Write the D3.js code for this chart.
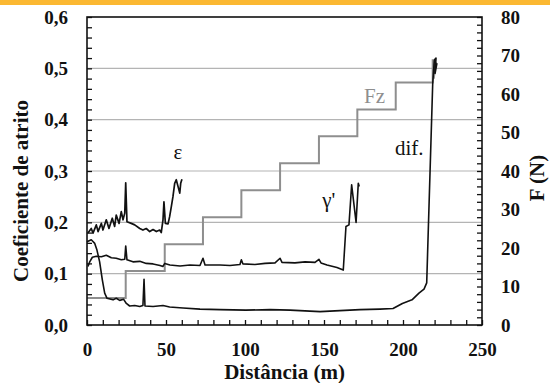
<!DOCTYPE html>
<html><head><meta charset="utf-8">
<script src="https://cdn.jsdelivr.net/npm/d3@7"></script>
<style>
html,body{margin:0;padding:0;background:#fff;}
svg{display:block;}
svg text{font-family:"Liberation Serif","DejaVu Serif","Times New Roman",serif;}
</style></head>
<body>
<svg id="chart" width="550" height="383"></svg>
<script>
// ---- data ----
const yTicksLeft = [0, 0.1, 0.2, 0.3, 0.4, 0.5, 0.6];
const yTicksRight = [0, 10, 20, 30, 40, 50, 60, 70, 80];
const xTicks = [0, 50, 100, 150, 200, 250];

// epsilon curve: distance (m), friction coefficient
const epsDist = [0.6,2.7,3.8,5.9,7.0,9.1,10.1,12.2,13.9,16.0,17.5,18.5,20.3,21.7,22.8,23.9,24.5,25.3,28.0,30.2,33.4,35.4,37.5,39.7,41.8,43.9,46.0,47.0,48.1,48.7,49.6,51.3,52.3,53.4,54.4,55.5,56.5,57.6,58.7,59.3,60.1];
const epsVal  = [0.179,0.188,0.179,0.195,0.182,0.198,0.185,0.205,0.188,0.208,0.192,0.214,0.198,0.221,0.205,0.218,0.277,0.201,0.198,0.195,0.188,0.185,0.188,0.182,0.186,0.182,0.185,0.180,0.205,0.240,0.198,0.197,0.211,0.231,0.250,0.276,0.283,0.270,0.257,0.276,0.284];

// gamma' curve
const gamDist = [0.6,1.7,3.4,5.9,9.1,12.2,15.4,18.5,21.7,23.9,24.5,25.3,29.1,33.4,37.5,41.8,46.2,48.1,49.2,52.5,58.9,65.2,71.5,73.4,74.7,84.2,90.5,96.8,97.7,98.7,106.3,112.7,119.0,122.2,123.4,131.6,138.0,144.3,146.8,148.1,151.9,158.2,162.2,163.9,165.8,167.5,170.3,171.7,172.3];
const gamVal  = [0.114,0.123,0.132,0.134,0.133,0.136,0.131,0.130,0.127,0.128,0.154,0.127,0.123,0.124,0.120,0.119,0.116,0.114,0.120,0.117,0.115,0.117,0.116,0.130,0.117,0.117,0.116,0.118,0.127,0.119,0.118,0.120,0.121,0.130,0.122,0.121,0.123,0.122,0.128,0.121,0.117,0.112,0.107,0.192,0.195,0.273,0.200,0.276,0.270];

// dif. curve
const difDist = [0,2.7,4.9,6.3,8.0,9.7,11.2,12.7,16.5,18.5,20.7,23.2,24.9,27.0,30.2,33.4,35.4,36.1,36.7,41.8,48.1,52.3,60.8,71.5,84.2,100.6,115.8,128.5,141.1,147.5,160.1,172.8,185.4,193.7,199.6,205.7,210.1,213.3,215.0,218.8,219.8,220.9,220.3,221.5];
const difVal  = [0.162,0.166,0.159,0.146,0.123,0.088,0.062,0.052,0.049,0.052,0.048,0.050,0.042,0.037,0.038,0.036,0.038,0.089,0.037,0.036,0.038,0.035,0.033,0.031,0.030,0.029,0.030,0.029,0.027,0.026,0.028,0.030,0.031,0.032,0.042,0.049,0.062,0.070,0.082,0.470,0.516,0.520,0.490,0.510];

// Fz staircase: step start distances and load levels (N)
const fzDist  = [0, 24.5, 49.2, 73.4, 97.7, 122.2, 146.8, 171.1, 195.4, 218.8, 219.5, 220.5, 221.5];
const fzLoad  = [7, 14, 21, 28, 35, 42, 49, 56, 63, 69, 64, 68, 68];

// ---- layout ----
const svg = d3.select("#chart");
const M = {left: 87, right: 482, top: 17, bottom: 325};
const x = d3.scaleLinear().domain([0, 250]).range([M.left, M.right]);
const y = d3.scaleLinear().domain([0, 0.6]).range([M.bottom, M.top]);
const yR = d3.scaleLinear().domain([0, 80]).range([M.bottom, M.top]);
const fmt = d => d3.format(".1f")(d).replace(".", ",");
const FONT = "Liberation Serif, DejaVu Serif, serif";

// orange top band
svg.append("rect").attr("x",0).attr("y",0).attr("width",550).attr("height",5).attr("fill","#FBB832");

// gridlines
svg.append("g").selectAll("line").data(yTicksLeft.filter(d => d > 0 && d < 0.6)).join("line")
  .attr("x1", M.left).attr("x2", M.right)
  .attr("y1", d => y(d)).attr("y2", d => y(d))
  .attr("stroke", "#b4b4b4").attr("stroke-width", 1.2);

// Fz staircase (gray)
const fzPts = [];
fzDist.forEach((d, i) => {
  fzPts.push([d, fzLoad[i]]);
  if (i < 9) fzPts.push([fzDist[i + 1], fzLoad[i]]);
});
svg.append("path").datum(fzPts)
  .attr("d", d3.line().x(p => x(p[0])).y(p => yR(p[1])))
  .attr("fill", "none").attr("stroke", "#8e8e8e").attr("stroke-width", 2);

// curves
function curve(dist, vals, w) {
  svg.append("path").datum(dist.map((d, i) => [d, vals[i]]))
    .attr("d", d3.line().x(p => x(p[0])).y(p => y(p[1])))
    .attr("fill", "none").attr("stroke", "#111").attr("stroke-width", w)
    .attr("stroke-linejoin", "round");
}
curve(epsDist, epsVal, 1.7);
curve(gamDist, gamVal, 1.6);
curve(difDist, difVal, 1.6);

// axes: minor ticks (inward)
const tickStyle = g => { g.select(".domain").remove(); g.selectAll("line").attr("stroke","#111").attr("stroke-width",1.3); };
svg.append("g").attr("transform", `translate(${M.left},0)`)
  .call(d3.axisLeft(y).tickValues(d3.range(0, 0.601, 0.02)).tickSize(-5).tickFormat(""))
  .call(tickStyle);
svg.append("g").attr("transform", `translate(${M.right},0)`)
  .call(d3.axisRight(yR).tickValues(d3.range(0, 80.1, 2)).tickSize(-5).tickFormat(""))
  .call(tickStyle);
svg.append("g").attr("transform", `translate(0,${M.bottom})`)
  .call(d3.axisBottom(x).tickValues(d3.range(0, 250.1, 10)).tickSize(-5).tickFormat(""))
  .call(tickStyle);

// labels
const labStyle = g => { g.attr("font-family", null); g.select(".domain").remove(); g.selectAll("line").remove();
  g.selectAll("text").style("font-family", FONT).attr("font-weight", "bold").attr("font-size", 19).attr("fill", "#111"); };
svg.append("g").attr("transform", `translate(${M.left},0)`)
  .call(d3.axisLeft(y).tickValues(yTicksLeft).tickSize(0).tickPadding(19).tickFormat(fmt)).call(labStyle);
svg.append("g").attr("transform", `translate(${M.right},0)`)
  .call(d3.axisRight(yR).tickValues(yTicksRight).tickSize(0).tickPadding(19)).call(labStyle);
svg.append("g").attr("transform", `translate(0,${M.bottom})`)
  .call(d3.axisBottom(x).tickValues(xTicks).tickSize(0).tickPadding(18)).call(labStyle);

// frame
svg.append("rect").attr("x", M.left).attr("y", M.top)
  .attr("width", M.right - M.left).attr("height", M.bottom - M.top)
  .attr("fill", "none").attr("stroke", "#111").attr("stroke-width", 1.6);

// axis titles
const title = (t, tr) => svg.append("text").attr("transform", tr)
  .attr("text-anchor", "middle").style("font-family", FONT).attr("font-weight", "bold")
  .attr("font-size", 21).attr("fill", "#111").text(t);
title("Distância (m)", `translate(${(M.left + M.right) / 2},379)`);
title("Coeficiente de atrito", "translate(28,191) rotate(-90)");
title("F (N)", "translate(544,178) rotate(-90)");

// series labels
const ann = (t, px, py, c) => svg.append("text").attr("x", px).attr("y", py)
  .attr("text-anchor", "middle").style("font-family", FONT).attr("font-size", 21)
  .attr("fill", c).text(t);
ann("ε", x(57.6), 159, "#111");
ann("Fz", x(182), 103, "#8e8e8e");
ann("dif.", x(204), 155, "#111");
ann("γ'", x(153), 207, "#111");
</script>
</body></html>
